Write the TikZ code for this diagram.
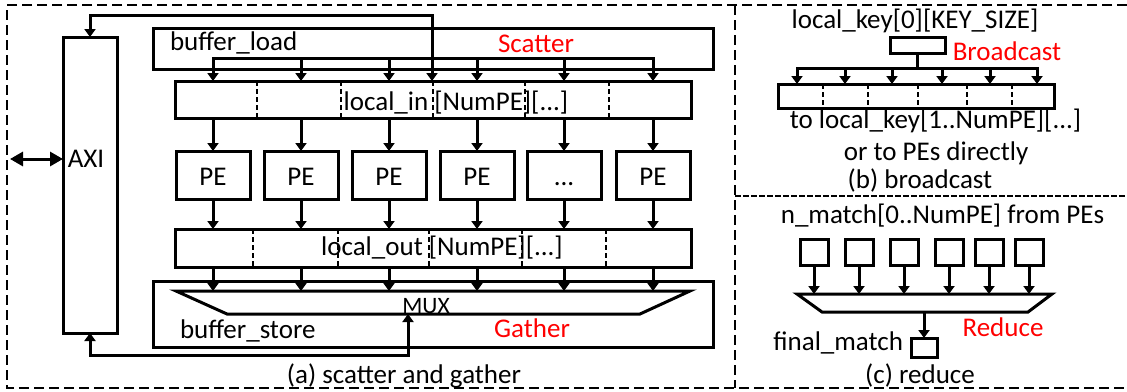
\documentclass[tikz,border=0pt]{standalone}
\usepackage{fontspec}
\setmainfont{Carlito}
\usetikzlibrary{arrows.meta}
\newcommand\peellipsis{...}
\begin{document}
\begin{tikzpicture}[x=1pt,y=-1pt,
  every node/.style={inner sep=0pt, outer sep=0pt, font=\fontsize{27}{32}\selectfont},
  box/.style={draw, line width=3pt, fill=white, line join=miter},
  wire/.style={line width=3pt, line join=miter},
  arr/.style={wire, -{Triangle[width=11pt,length=8pt]}},
  dbl/.style={wire, {Triangle[width=11pt,length=8pt]}-{Triangle[width=11pt,length=8pt]}},
  bigdbl/.style={wire, {Triangle[width=14pt,length=13pt]}-{Triangle[width=14pt,length=13pt]}},
  frame/.style={line width=1.5pt, dash pattern=on 10pt off 5pt},
  divider/.style={line width=1.2pt, dash pattern=on 5pt off 3pt},
  redlbl/.style={text=red, anchor=base},
  petext/.style={text height=20pt, text depth=0pt}]
\useasboundingbox (0,0) rectangle (1127,391);

% panel frames (open towards the right edge)
\draw[frame] (1127,5) -- (7,5) -- (7,388) -- (1127,388);
\draw[frame] (735,5) -- (735,388);
\draw[frame, dash pattern=on 6pt off 2pt] (735,196) -- (1127,196);

% ---------- (a) scatter and gather ----------
\node[box, minimum width=54pt, minimum height=296pt] (axi) at (90,185) {};
\node[anchor=base] (axitxt) at (86,167) {AXI};

\node[box, minimum width=560pt, minimum height=41pt] (bl) at (433,48.5) {};
\node[anchor=base west] (bltxt) at (170,50) {buffer\_load};
\node[redlbl] (scat) at (536,52) {Scatter};

\node[box, minimum width=516pt, minimum height=37pt] (li) at (433,99.5) {};
\foreach \x in {257,341,433,525,609}
  \draw[divider] (\x,0 |- li.north) -- (\x,0 |- li.south);
\node[anchor=base] (litxt) at (456,110) {local\_in [NumPE][...]};

\node[box, minimum width=516pt, minimum height=38pt] (lo) at (433,248) {};
\foreach \x in {253,338,429,522,606}
  \draw[divider] (\x,0 |- lo.north) -- (\x,0 |- lo.south);
\node[anchor=base] (lotxt) at (442,255) {local\_out [NumPE][...]};

\node[box, minimum width=560pt, minimum height=66pt] (bs) at (433,314) {};
\draw[wire] (176,291) coordinate (mtl) -- (690,291) coordinate (mtr)
  -- (640,314) coordinate (mbr) -- (227,314) coordinate (mbl) -- cycle;
\node[anchor=base, font=\fontsize{23.5}{28}\selectfont] (muxtxt) at (426,313) {MUX};
\node[anchor=base west] (bstxt) at (180,338) {buffer\_store};
\node[redlbl] (gath) at (532,337) {Gather};

% processing elements
\foreach \i/\x/\t in {1/213/PE,2/301/PE,3/389/PE,4/477/PE,5/564/\peellipsis,6/653/PE}{
  \node[box, petext, minimum width=74pt, minimum height=48pt] (pe\i) at (\x,175) {\t};
  \coordinate (sc\i) at (\x,58);
}

% scatter bus
\draw[wire, line cap=rect] (sc1) -- (sc6);
\foreach \i in {1,2,3,4,5,6}{
  \draw[arr] (sc\i) -- (sc\i |- li.north);
  \draw[arr] (pe\i.north |- li.south) -- (pe\i.north);
  \draw[arr] (pe\i.south) -- (pe\i.south |- lo.north);
  \draw[arr] (pe\i.south |- lo.south) -- (pe\i.south |- mtl);
}

% AXI links
\coordinate (tc) at (432,15);
\draw[dbl] (axi.north) |- (tc) -- (tc |- li.north);
\coordinate (mb) at (408,314);
\coordinate (bc) at (408,355);
\draw[dbl] (axi.south) |- (bc) -- (mb);
\coordinate (ext) at (10,159);
\draw[bigdbl] (ext) -- (ext -| axi.west);

\node[anchor=base] (capa) at (404,383) {(a) scatter and gather};

% ---------- (b) broadcast ----------
\node[anchor=base] (keytxt) at (915,28) {local\_key[0][KEY\_SIZE]};
\node[box, minimum width=55pt, minimum height=16pt] (key) at (917.5,45) {};
\node[redlbl] (bcast) at (1007,60) {Broadcast};
\node[box, minimum width=276pt, minimum height=24pt] (karr) at (916,96) {};
\foreach \x in {823,868,918,967,1012}
  \draw[divider] (\x,0 |- karr.north) -- (\x,0 |- karr.south);
\coordinate (kb) at (917.5,68);
\draw[wire] (key.south) -- (kb);
\foreach \i/\x in {1/797,2/845,3/892,4/942,5/990,6/1037}
  \coordinate (kc\i) at (\x,68);
\draw[wire, line cap=rect] (kc1) -- (kc6);
\foreach \i in {1,2,3,4,5,6}
  \draw[arr] (kc\i) -- (kc\i |- karr.north);
\node[anchor=base] (totxt) at (935.5,128) {to local\_key[1..NumPE][...]};
\node[anchor=base] (ortxt) at (936,160) {or to PEs directly};
\node[anchor=base] (capb) at (920,188) {(b) broadcast};

% ---------- (c) reduce ----------
\node[anchor=base] (nmtxt) at (942.5,223) {n\_match[0..NumPE] from PEs};
\draw[wire] (797,294) coordinate (rtl) -- (1052,294) -- (1028,312) -- (822,312) -- cycle;
\foreach \i/\x in {1/814,2/859,3/904,4/949,5/989,6/1029}{
  \node[box, minimum width=28pt, minimum height=26pt] (sq\i) at (\x,252) {};
  \draw[arr] (sq\i.south) -- (sq\i.south |- rtl);
}
\node[box, minimum width=26pt, minimum height=19pt] (fm) at (924,347.5) {};
\coordinate (rb) at (924,312);
\draw[arr] (rb) -- (fm.north);
\node[anchor=base east] (fmtxt) at (903,350) {final\_match};
\node[redlbl] (red) at (1003,336) {Reduce};
\node[anchor=base] (capc) at (920,383) {(c) reduce};
\end{tikzpicture}
\end{document}
